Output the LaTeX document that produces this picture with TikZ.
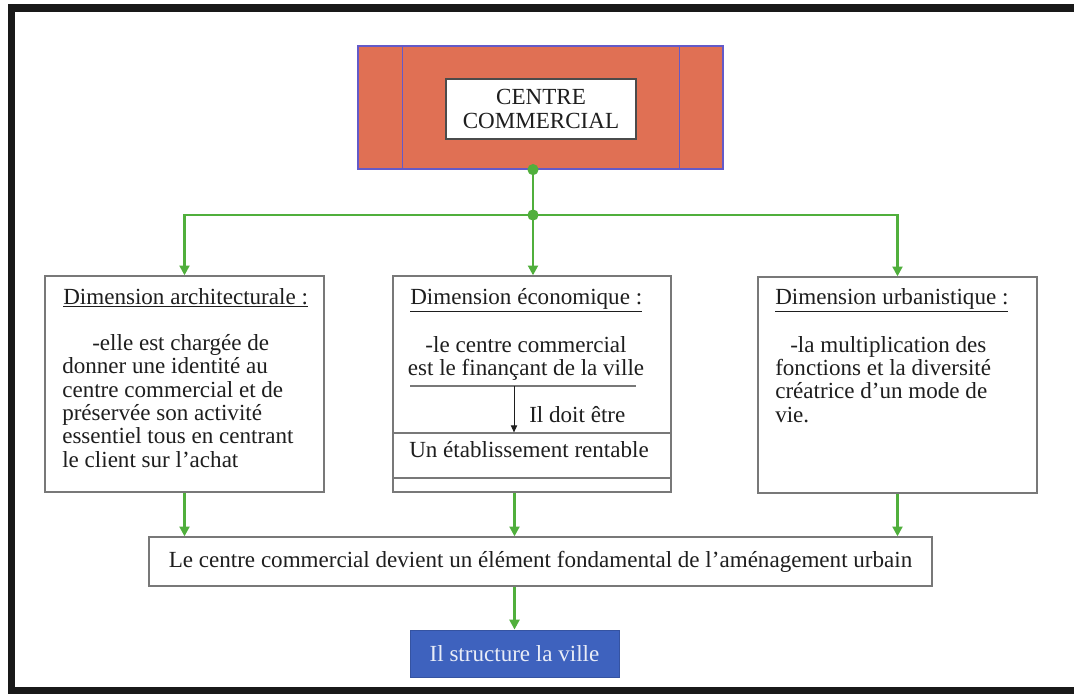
\documentclass[tikz,border=0pt]{standalone}
\usepackage{fontspec}
\setmainfont{Liberation Serif}
\usetikzlibrary{positioning, arrows.meta, calc}

\definecolor{corail}{RGB}{224,112,84}
\definecolor{bleuBord}{RGB}{100,90,200}
\definecolor{bleuVille}{RGB}{62,98,190}
\definecolor{vertLien}{RGB}{80,175,60}
\definecolor{grisBord}{RGB}{120,120,120}
\definecolor{encre}{RGB}{30,30,30}

\tikzset{
  cadre/.style={draw=grisBord, line width=0.9pt, fill=white, inner sep=0pt},
  texte/.style={inner sep=0pt, text=encre, font=\fontsize{16.4}{16.6}\selectfont},
  lien/.style={draw=vertLien, line width=2pt},
  fleche/.style={lien, -{Triangle[length=7pt,width=7pt]}},
  point/.style={circle, fill=vertLien, inner sep=0pt, minimum size=0.28cm}
}

\begin{document}
\begin{tikzpicture}[x=0.025cm, y=-0.025cm]
            \fill[white] (0,0) rectangle (1074,693);
            \useasboundingbox (0,0) rectangle (1074,693);

            % Outer frame
            \draw[black!90, line width=5pt] (1074,8) -- (11.5,8) -- (11.5,691) -- (1074,691);

            % Centre commercial
            \node[draw=bleuBord, fill=corail, line width=0.8pt, minimum width=9.125cm, minimum height=3.075cm, inner sep=0pt] (centre) at (540.5,107.5) {};
            \draw[bleuBord, line width=0.8pt] (centre.north west) ++(45,0) -- ++(0,123);
            \draw[bleuBord, line width=0.8pt] (centre.north east) ++(-44,0) -- ++(0,123);
            \node[cadre, draw=encre!80, minimum width=4.75cm, minimum height=1.5cm, texte, align=center] (titre) at (541,109) {CENTRE\\COMMERCIAL};

            % Three dimensions
            \node[cadre, minimum width=6.975cm, minimum height=5.4cm] (archi) at (184.5,384) {};
            \node[cadre, minimum width=6.95cm, minimum height=5.4cm] (eco) at (532,384) {};
            \node[cadre, minimum width=6.975cm, minimum height=5.4cm] (urba) at (897.5,385) {};
            \node[cadre, minimum width=6.95cm, minimum height=1.125cm] (rentable) at (532,455.5) {};

            % Dimension architecturale
            \node[texte, anchor=base west] (archiT) at (63,304) {\underline{Dimension architecturale :}};
            \node[texte, anchor=north west, align=left] (archiB) at (62,334)
              {\hspace*{0.75cm}-elle est chargée de\\donner une identité au\\centre commercial et de\\préservée son activité\\essentiel tous en centrant\\le client sur l’achat};

            % Dimension economique
            \node[texte, anchor=base west] (ecoT) at (410,304) {\underline{Dimension économique :}};
            \node[texte, anchor=north, align=center] (ecoB) at (526,336)
              {-le centre commercial\\est le finançant de la ville};
            \draw[grisBord, line width=0.8pt] (410,386) -- (636,386);
            \coordinate (regle) at (514,386);
            \draw[encre, line width=0.6pt, -{Triangle[length=5pt,width=4.5pt]}] (regle) -- (regle |- rentable.north);
            \node[texte, anchor=base west] (doit) at (529,422) {Il doit être};
            \node[texte, anchor=base west] (rentableT) at (409,457) {Un établissement rentable};

            % Dimension urbanistique
            \node[texte, anchor=base west] (urbaT) at (775,304) {\underline{Dimension urbanistique :}};
            \node[texte, anchor=north west, align=left] (urbaB) at (775,336)
              {\hspace*{0.375cm}-la multiplication des\\fonctions et la diversité\\créatrice d’un mode de\\vie.};

            % Conclusion
            \node[cadre, texte, minimum width=19.575cm, minimum height=1.225cm] (bilan) at (540.5,561.5)
              {Le centre commercial devient un élément fondamental de l’aménagement urbain};
            \node[fill=bleuVille, draw=bleuVille!85!black, line width=0.6pt, texte, text=white!88!bleuVille, minimum width=5.225cm, minimum height=1.175cm] (ville) at (514.5,653.5)
              {Il structure la ville};

            % Green links
            \coordinate (jonction) at (533,215);
            \draw[lien] (jonction |- centre.south) -- (jonction);
            \draw[fleche] (jonction) -| (archi.north);
            \draw[fleche] (jonction) -| (urba.north);
            \draw[fleche] (jonction) -- (jonction |- eco.north);
            \node[point] (pointHaut) at (jonction |- centre.south) {};
            \node[point] (pointBas) at (jonction) {};

            \draw[fleche] (archi.south) -- (archi.south |- bilan.north);
            \draw[fleche] (ville.north |- eco.south) -- (ville.north |- bilan.north);
            \draw[fleche] (urba.south) -- (urba.south |- bilan.north);
            \draw[fleche] (ville.north |- bilan.south) -- (ville.north);
        \end{tikzpicture}
\end{document}
